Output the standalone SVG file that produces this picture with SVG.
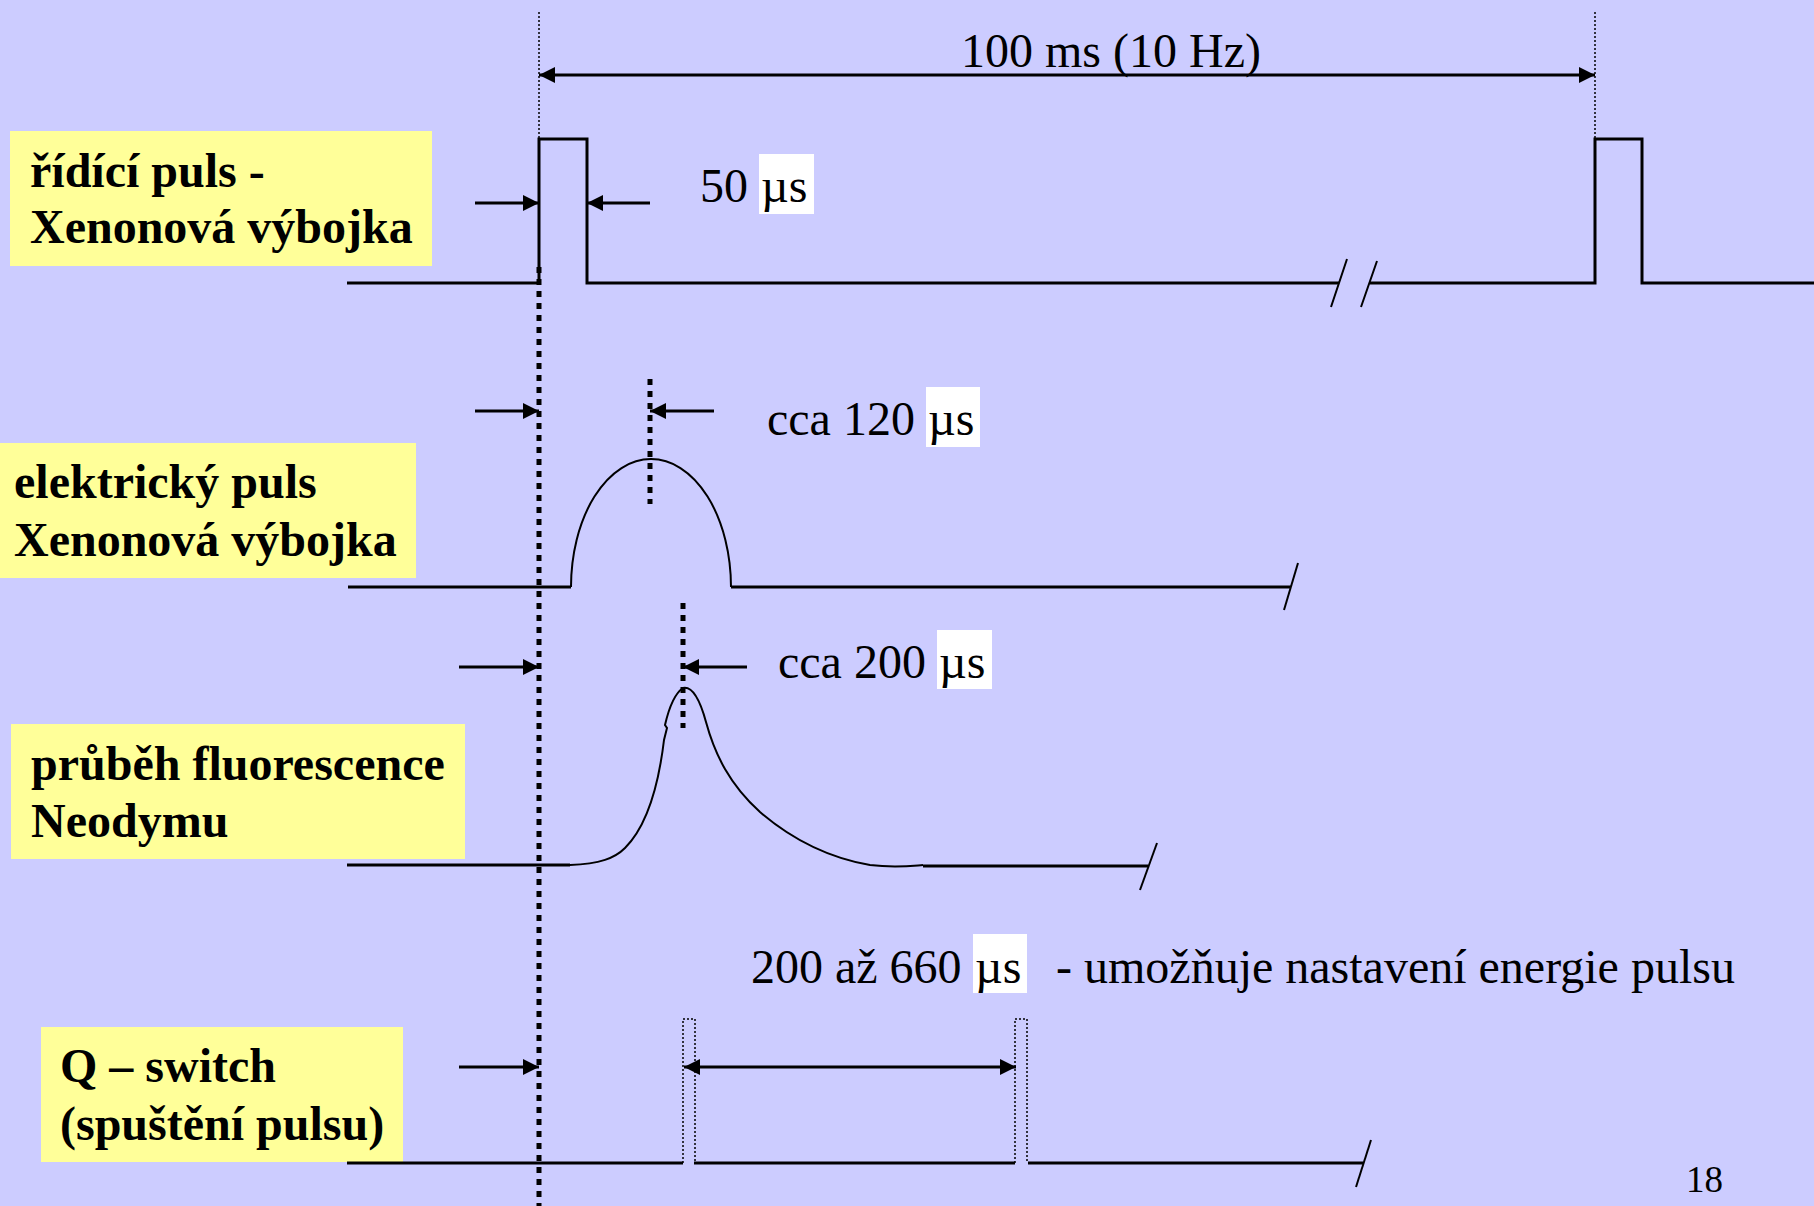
<svg xmlns="http://www.w3.org/2000/svg" width="1814" height="1206" viewBox="0 0 1814 1206">
<defs>
<style>
.lbl{font-family:"Liberation Serif","Times New Roman",serif;font-size:48px;font-weight:bold;fill:#000}
.txt{font-family:"Liberation Serif","Times New Roman",serif;font-size:48px;fill:#000}
.box{fill:#FFFF99}
.wb{fill:#FFFFFF}
.sig{fill:none;stroke:#000;stroke-width:3}
.thin{fill:none;stroke:#000;stroke-width:2}
.arr{fill:none;stroke:#000;stroke-width:3}
.dot{fill:none;stroke:#000;stroke-width:5;stroke-dasharray:6 6}
.fdot{fill:none;stroke:#000;stroke-width:1.5;stroke-dasharray:2 2}
</style>
<marker id="ah" markerUnits="userSpaceOnUse" markerWidth="16" markerHeight="16" refX="16" refY="8" orient="auto-start-reverse">
<path d="M0,0 L16,8 L0,16 z" fill="#000"/>
</marker>
</defs>
<rect x="0" y="0" width="1814" height="1206" fill="#CCCCFF"/>

<g id="label-ridici">
<rect class="box" x="10" y="131" width="422" height="135"/>
<text class="lbl" x="30" y="187">řídící puls -</text>
<text class="lbl" x="30" y="243">Xenonová výbojka</text>
</g>
<g id="label-elektricky">
<rect class="box" x="0" y="443" width="416" height="135"/>
<text class="lbl" x="14" y="498">elektrický puls</text>
<text class="lbl" x="14" y="556">Xenonová výbojka</text>
</g>
<g id="label-fluorescence">
<rect class="box" x="11" y="724" width="454" height="135"/>
<text class="lbl" x="31" y="780">průběh fluorescence</text>
<text class="lbl" x="31" y="837">Neodymu</text>
</g>
<g id="label-qswitch">
<rect class="box" x="41" y="1027" width="362" height="135"/>
<text class="lbl" x="60" y="1082">Q – switch</text>
<text class="lbl" x="60" y="1140">(spuštění pulsu)</text>
</g>

<g id="signals">
<path class="sig" d="M347,283 H539 V139 H587 V283 H1339"/>
<path class="sig" d="M1370,283 H1595 V139 H1642 V283 H1814"/>
<path class="thin" d="M1331,307 L1347,259 M1361,307 L1377,261"/>
<path class="sig" d="M348,587 H571"/>
<path class="thin" d="M571,587 A80,128 0 0 1 731,587"/>
<path class="sig" d="M731,587 H1291"/>
<path class="thin" d="M1284,610 L1298,563"/>
<path class="sig" d="M347,865 H570"/>
<path class="thin" d="M570,865 C600,864 615,858 625,848 C645,828 658,790 664,740 L667,728 L665,725 C668,712 674,694 683,688 C692,686 700,700 706,722 C715,755 730,785 760,812 C795,842 830,858 870,865 C895,868 910,866 923,865"/>
<path class="sig" d="M923,866 H1148"/>
<path class="thin" d="M1140,890 L1157,843"/>
<path class="sig" d="M347,1163 H683 M694,1163 H1015 M1028,1163 H1363"/>
<path class="thin" d="M1356,1187 L1371,1140"/>
<path class="fdot" d="M683,1163 V1019 H695 V1163 M1015,1163 V1019 H1027 V1163"/>
</g>

<g id="connectors">
<path class="fdot" d="M539,12 V139 M1595,12 V139"/>
<path class="dot" d="M539,267 V1206"/>
<path class="dot" d="M650,379 V504"/>
<path class="dot" d="M683,603 V728"/>
<path class="arr" d="M539,75 H1595" marker-start="url(#ah)" marker-end="url(#ah)"/>
<path class="arr" d="M475,203 H539" marker-end="url(#ah)"/>
<path class="arr" d="M650,203 H587" marker-end="url(#ah)"/>
<path class="arr" d="M475,411 H539" marker-end="url(#ah)"/>
<path class="arr" d="M714,411 H650" marker-end="url(#ah)"/>
<path class="arr" d="M459,667 H539" marker-end="url(#ah)"/>
<path class="arr" d="M747,667 H683" marker-end="url(#ah)"/>
<path class="arr" d="M459,1067 H539" marker-end="url(#ah)"/>
<path class="arr" d="M684,1067 H1016" marker-start="url(#ah)" marker-end="url(#ah)"/>
</g>

<g id="texts">
<text class="txt" x="961" y="67">100 ms (10 Hz)</text>
<rect class="wb" x="759" y="154" width="55" height="60"/>
<text class="txt" x="700" y="202">50 <tspan x="761">µs</tspan></text>
<rect class="wb" x="926" y="387" width="54" height="60"/>
<text class="txt" x="767" y="435">cca 120 <tspan x="928">µs</tspan></text>
<rect class="wb" x="937" y="630" width="55" height="59"/>
<text class="txt" x="778" y="678">cca 200 <tspan x="939">µs</tspan></text>
<rect class="wb" x="973" y="934" width="54" height="59"/>
<text class="txt" x="751" y="983">200 až 660 <tspan x="975">µs</tspan></text>
<text class="txt" x="1056" y="983">- umožňuje nastavení energie pulsu</text>
<text class="txt" x="1686" y="1192" style="font-size:37px">18</text>
</g>
</svg>
